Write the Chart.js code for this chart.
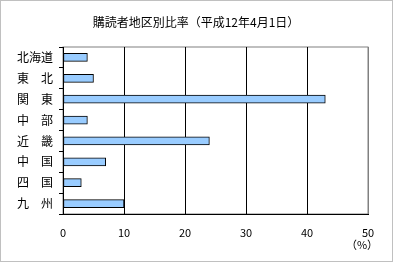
<!DOCTYPE html>
<html><head><meta charset="utf-8">
<script src="https://cdn.jsdelivr.net/npm/chart.js@4/dist/chart.umd.min.js"></script>
<style>html,body{margin:0;padding:0;background:#fff}#wrap{width:393px;height:262px;position:relative}</style>
</head><body><div id="wrap"><canvas id="c" width="393" height="262"></canvas></div>
<script>
const categories = ['北海道','東　北','関　東','中　部','近　畿','中　国','四　国','九　州'];
const values = [4, 5, 43, 4, 24, 7, 3, 10];
const xTicks = [0, 10, 20, 30, 40, 50];
const titleText = '購読者地区別比率（平成12年4月1日）';
const unitText = '（%）';
const FONT = "'Noto Sans CJK JP', 'DejaVu Sans', sans-serif";

const decor = {
  id: 'decor',
  beforeDraw(chart) {
    const ctx = chart.ctx, a = chart.chartArea;
    ctx.save();
    ctx.fillStyle = '#fff';
    ctx.fillRect(0, 0, chart.width, chart.height);
    ctx.strokeStyle = '#808080';
    ctx.lineWidth = 1;
    ctx.strokeRect(a.left, a.top, a.right - a.left, a.bottom - a.top);
    ctx.restore();
  },
  afterDraw(chart) {
    const ctx = chart.ctx;
    ctx.save();
    ctx.strokeStyle = '#c0c0c0';
    ctx.lineWidth = 1;
    ctx.strokeRect(0.5, 0.5, chart.width - 1, chart.height - 1);
    ctx.fillStyle = '#000';
    ctx.textAlign = 'center';
    ctx.textBaseline = 'middle';
    ctx.font = '12px ' + FONT;
    ctx.fillText(titleText, 196, 22);
    const xs = chart.scales.x;
    ctx.font = '11px ' + FONT;
    ctx.fillText(unitText, xs.getPixelForValue(50) - 6, 245);
    ctx.restore();
  }
};

new Chart(document.getElementById('c'), {
  type: 'bar',
  data: {
    labels: categories,
    datasets: [{
      data: values,
      backgroundColor: '#99CCFF',
      borderColor: '#000',
      borderWidth: 1,
      borderSkipped: false,
      barThickness: 8
    }]
  },
  options: {
    indexAxis: 'y',
    responsive: false,
    animation: false,
    events: [],
    layout: { padding: { left: 0, right: 25, top: 47, bottom: 0 } },
    plugins: {
      legend: { display: false },
      tooltip: { enabled: false },
      title: { display: false }
    },
    scales: {
      x: {
        min: 0, max: 50,
        afterBuildTicks(s) { s.ticks = xTicks.map(v => ({ value: v })); },
        afterFit(s) { s.height = 48; },
        grid: {
          color: ctx => (ctx.tick && ctx.tick.value === 50) ? '#808080' : '#000',
          lineWidth: 1,
          drawTicks: false
        },
        border: { color: '#000', width: 1 },
        ticks: {
          color: '#000',
          padding: 12,
          font: { family: FONT, size: 11 },
          maxRotation: 0
        }
      },
      y: {
        afterFit(s) { s.width = 63; },
        grid: {
          offset: true,
          drawOnChartArea: false,
          drawTicks: true,
          tickLength: 4,
          color: '#000'
        },
        border: { color: '#000', width: 1 },
        ticks: {
          color: '#000',
          padding: 6,
          font: { family: FONT, size: 12 }
        }
      }
    }
  },
  plugins: [decor]
});
</script></body></html>
